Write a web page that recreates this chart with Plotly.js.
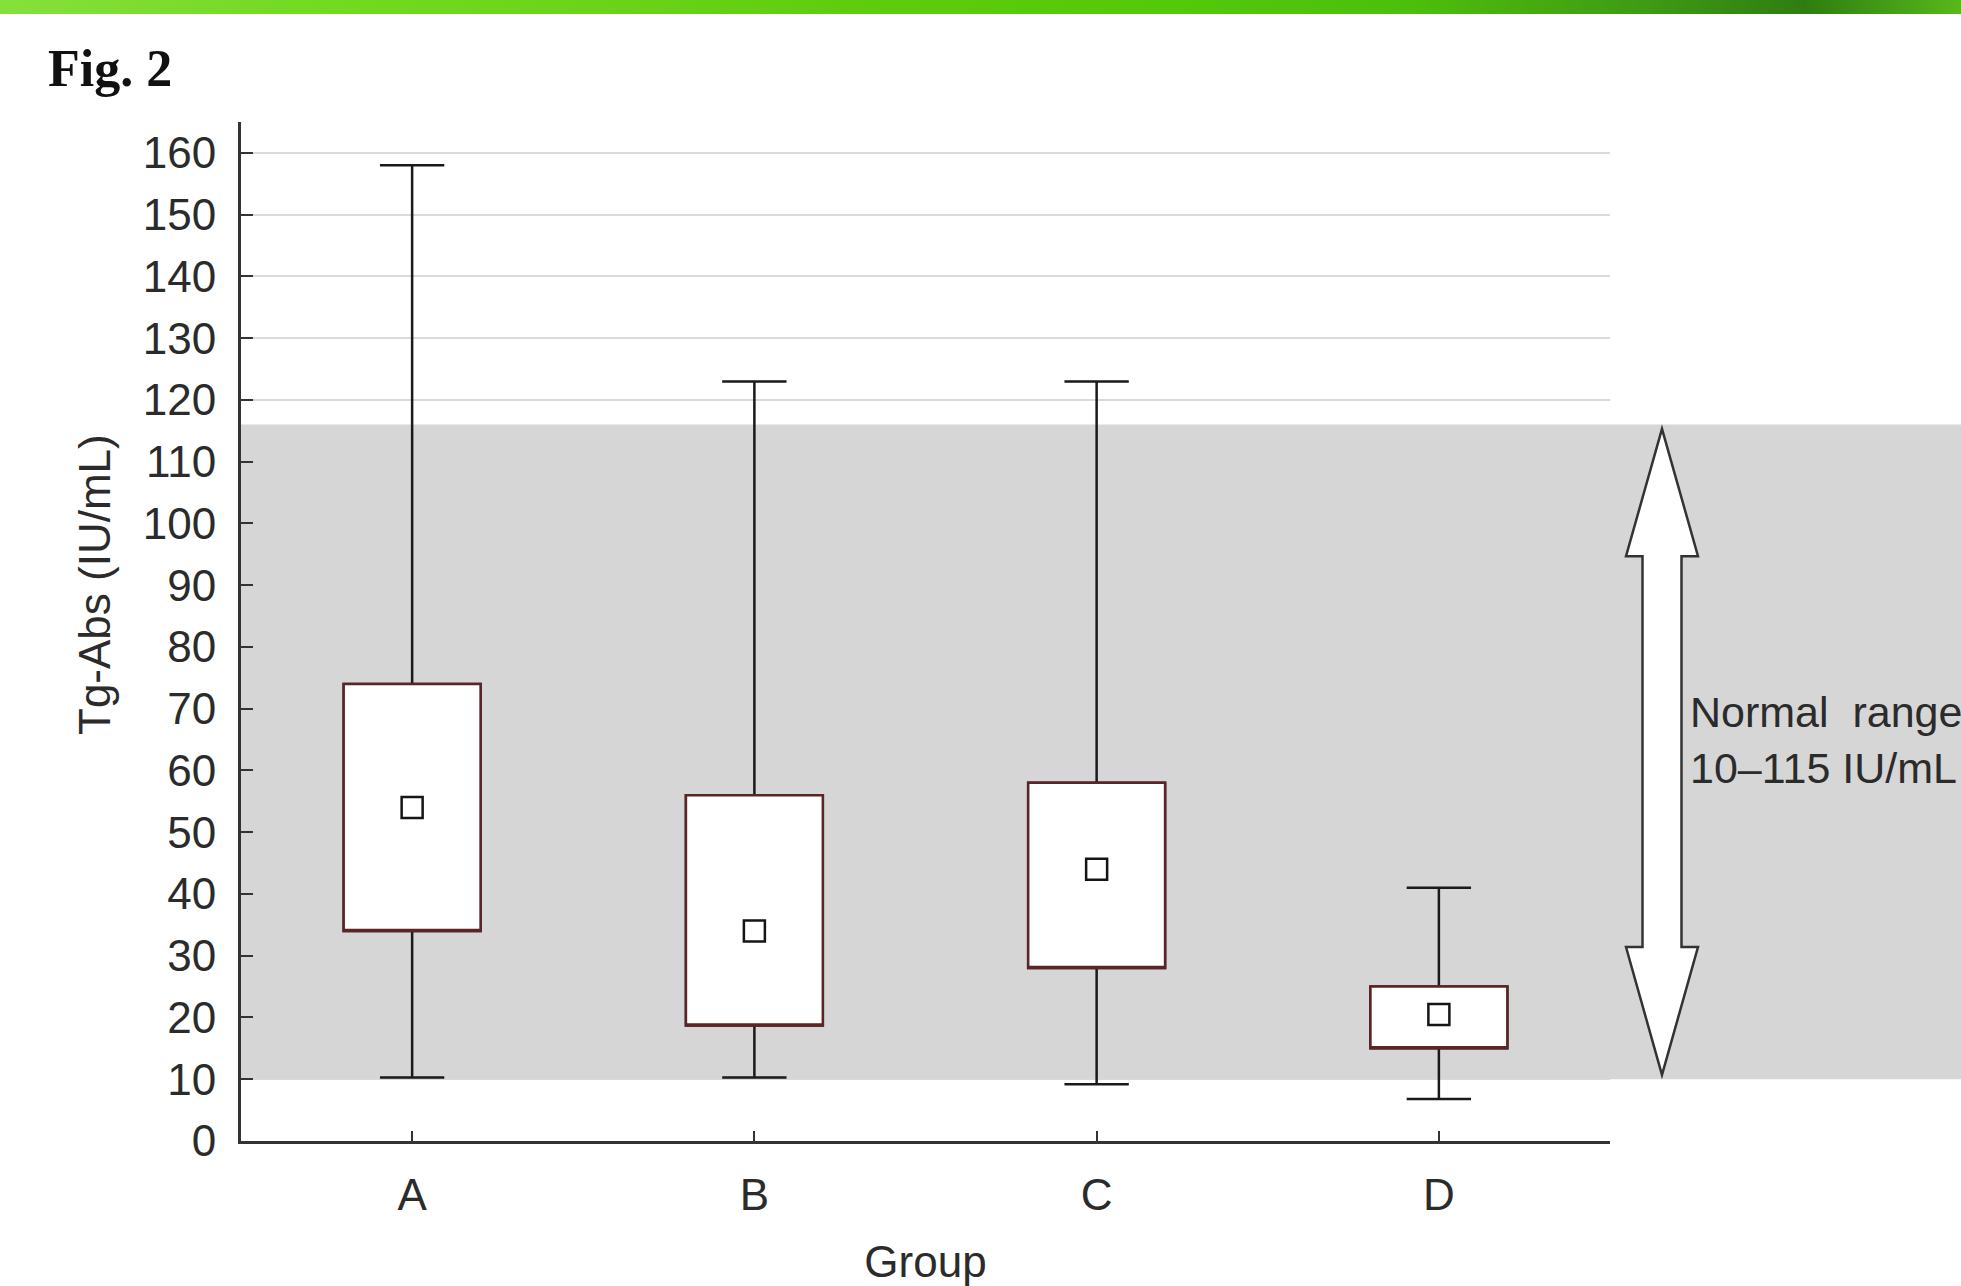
<!DOCTYPE html>
<html>
<head>
<meta charset="utf-8">
<script src="https://cdn.plot.ly/plotly-3.0.1.min.js"></script>
<style>
  html, body { margin: 0; padding: 0; background: #ffffff; width: 1961px; height: 1286px; overflow: hidden; }
  #topbar { position: absolute; left: 0; top: 0; width: 1961px; height: 14px; z-index: 5;
    background: linear-gradient(to right, #86e03a 0%, #74da22 15%, #6bd41a 30%, #5ccc0e 45%, #54c80a 60%, #4cbf0a 72%, #3f9a14 84%, #2f7d10 92%, #58b81a 100%); }
  #chart { position: absolute; left: 0; top: 0; width: 1961px; height: 1286px; }
</style>
</head>
<body>
<div id="topbar"></div>
<div id="chart"></div>
<script>
// ---- data ----
const groups = ["A", "B", "C", "D"];
const whiskerHigh = [158, 123, 123, 41];
const boxHigh = [74, 56, 58, 25];
const means = [54, 34, 44, 20.5];
const boxLow = [34, 18.7, 28, 15];
const whiskerLow = [10.3, 10.3, 9.2, 6.8];
const yTicks = [0, 10, 20, 30, 40, 50, 60, 70, 80, 90, 100, 110, 120, 130, 140, 150, 160];
const normalBand = [10, 116];
const normalLabel = ["Normal range", "10\u2013115 IU/mL"];
const yTitle = "Tg-Abs (IU/mL)";
const xTitle = "Group";

// ---- layout constants ----
const W = 1961, H = 1286;
const mL = 241, mR = 351, mT = 122, mB = 145;
const plotW = W - mL - mR, plotH = H - mT - mB;
const yMax = 165;
const fontFam = "Liberation Sans, Arial, Helvetica, sans-serif";
const textCol = "#2b2b2b";

function px2paperX(px) { return (px - mL) / plotW; }
function px2paperY(py) { return (H - mB - py) / plotH; }
function v2paperY(v) { return v / yMax; }

// whisker + caps (black)
const whiskers = {
  type: "box",
  x: groups,
  q1: boxLow, median: boxLow, q3: boxHigh,
  lowerfence: whiskerLow, upperfence: whiskerHigh,
  width: 0.4,
  whiskerwidth: 0.47,
  fillcolor: "#ffffff",
  line: { color: "#1a1a1a", width: 2.5 },
  boxpoints: false,
  hoverinfo: "skip",
  showlegend: false
};
// box outline (maroon) on top
const boxes = {
  type: "box",
  x: groups,
  q1: boxLow, median: boxLow, q3: boxHigh,
  lowerfence: boxLow, upperfence: boxHigh,
  width: 0.4,
  whiskerwidth: 0,
  fillcolor: "#ffffff",
  line: { color: "#5c2424", width: 2.5 },
  boxpoints: false,
  hoverinfo: "skip",
  showlegend: false
};
const meanPts = {
  type: "scatter",
  mode: "markers",
  x: groups,
  y: means,
  marker: { symbol: "square", size: 21, color: "#ffffff", line: { color: "#151515", width: 2.5 } },
  cliponaxis: false,
  hoverinfo: "skip",
  showlegend: false
};

// double-headed arrow (paper coordinates)
const xc = px2paperX(1662);
const hh = 36 / plotW, sh = 19.5 / plotW;
const tipTop = 115.3, baseTop = 94.7, baseBot = 31.4, tipBot = 10.7;
const P = (x, v) => x.toFixed(5) + "," + v2paperY(v).toFixed(5);
const arrowPath = "M" + P(xc, tipTop) +
  " L" + P(xc + hh, baseTop) + " L" + P(xc + sh, baseTop) +
  " L" + P(xc + sh, baseBot) + " L" + P(xc + hh, baseBot) +
  " L" + P(xc, tipBot) +
  " L" + P(xc - hh, baseBot) + " L" + P(xc - sh, baseBot) +
  " L" + P(xc - sh, baseTop) + " L" + P(xc - hh, baseTop) + " Z";

const layout = {
  width: W, height: H,
  margin: { l: mL, r: mR, t: mT, b: mB, pad: 0 },
  paper_bgcolor: "#ffffff",
  plot_bgcolor: "rgba(0,0,0,0)",
  boxmode: "overlay",
  font: { family: fontFam, size: 44, color: textCol },
  xaxis: {
    type: "category",
    categoryorder: "array", categoryarray: groups,
    range: [-0.5, 3.5],
    showline: true, linecolor: "#333333", linewidth: 3,
    ticks: "inside", ticklen: 10, tickwidth: 2, tickcolor: "#333333",
    showgrid: false, zeroline: false,
    ticklabelstandoff: 13,
    tickfont: { family: fontFam, size: 44, color: textCol },
    title: { text: xTitle, font: { family: fontFam, size: 44, color: textCol }, standoff: 32 },
    automargin: false, fixedrange: true
  },
  yaxis: {
    range: [0, yMax],
    tickmode: "array", tickvals: yTicks, ticktext: yTicks.map(String),
    showline: true, linecolor: "#333333", linewidth: 3,
    ticks: "inside", ticklen: 12, tickwidth: 2, tickcolor: "#333333",
    showgrid: true, gridcolor: "#dadada", gridwidth: 2,
    zeroline: false,
    ticklabelstandoff: 13,
    tickfont: { family: fontFam, size: 44, color: textCol },
    automargin: false, fixedrange: true
  },
  shapes: [
    { type: "rect", xref: "x", yref: "y", x0: -0.5, x1: 3.5, y0: normalBand[0], y1: normalBand[1],
      fillcolor: "#d6d6d6", line: { width: 0 }, layer: "between" },
    { type: "rect", xref: "paper", yref: "paper", x0: 1, x1: 1.35,
      y0: v2paperY(normalBand[0]), y1: v2paperY(normalBand[1]),
      fillcolor: "#d6d6d6", line: { width: 0 }, layer: "below" },
    { type: "path", xref: "paper", yref: "paper", path: arrowPath,
      fillcolor: "#ffffff", line: { color: "#333333", width: 2.5 }, layer: "above" }
  ],
  annotations: [
    { xref: "paper", yref: "paper", x: px2paperX(1688), y: v2paperY(65),
      xanchor: "left", yanchor: "middle", align: "left", showarrow: false,
      text: normalLabel[0].replace(" ", "&nbsp;&nbsp;") + "<br>" + normalLabel[1].replace(" ", "&nbsp;"),
      font: { family: fontFam, size: 43, color: textCol } },
    { xref: "paper", yref: "paper", x: px2paperX(94), y: px2paperY(585),
      xanchor: "center", yanchor: "middle", showarrow: false, textangle: -90,
      text: yTitle,
      font: { family: fontFam, size: 44, color: textCol } },
    { xref: "paper", yref: "paper", x: px2paperX(46), y: px2paperY(68),
      xanchor: "left", yanchor: "middle", showarrow: false,
      text: "<b>Fig. 2</b>",
      font: { family: "Liberation Serif, Times New Roman, serif", size: 52, color: "#111111" } }
  ]
};

Plotly.newPlot("chart", [whiskers, boxes, meanPts], layout, { staticPlot: true, displayModeBar: false });
</script>
</body>
</html>
